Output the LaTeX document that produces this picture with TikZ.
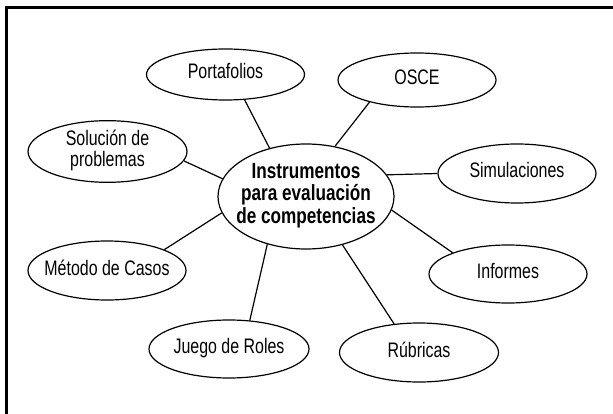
\documentclass[tikz,border=0pt]{standalone}
\usepackage{fontspec}
\setmainfont{Liberation Sans}[FakeStretch=0.76,BoldFeatures={FakeStretch=0.78}]
\usetikzlibrary{shapes.geometric}
\newcommand\ct[1]{\makebox[0pt]{\begin{tabular}{@{}c@{}}#1\end{tabular}}}
\begin{document}
\begin{tikzpicture}[x=1pt,y=-1pt,
  bub/.style={ellipse,draw,line width=1.2pt,inner sep=0pt,minimum width=158pt,minimum height=58pt,
    font=\fontsize{21}{21.5}\selectfont},
  link/.style={line width=1.2pt}]
\useasboundingbox (0,0) rectangle (613,414);
\fill[white] (0,0) rectangle (613,414);
\draw[line width=2.5pt] (6.5,414) -- (6.5,7.5) -- (613,7.5);
\node[bub,minimum width=176pt,minimum height=105pt,font=\fontsize{22}{21.7}\selectfont\bfseries] (c) at (306,196.5) {\ct{Instrumentos\\para evaluación\\de competencias}};
\node[bub,minimum height=51pt] (port) at (225.5,74.5) {\ct{Portafolios}};
\node[bub,minimum height=54pt] (osce) at (417,80) {\ct{OSCE}};
\node[bub,minimum width=159pt,minimum height=57pt] (sol) at (107.5,151.5) {\ct{Solución de\\problemas}};
\node[bub,minimum height=59pt] (sim) at (517,173.5) {\ct{Simulaciones}};
\node[bub,minimum height=59pt] (met) at (107,270.5) {\ct{Método de Casos}};
\node[bub,minimum height=58pt] (inf) at (508,274) {\ct{Informes}};
\node[bub,minimum width=160pt,minimum height=58pt] (jue) at (229,349) {\ct{Juego de Roles}};
\node[bub,minimum width=159pt,minimum height=59pt] (rub) at (419,352.5) {\ct{Rúbricas}};
\draw[link] (c.127.5) -- (port.-53.5);
\draw[link] (c.60.7) -- (osce.205.5);
\draw[link] (c.168.2) -- (sol.-7.2);
\draw[link] (c.15) -- (sim.180);
\draw[link] (c.191.1) -- (met.20);
\draw[link] (c.-9.5) -- (inf.159.9);
\draw[link] (c.231.9) -- (jue.54);
\draw[link] (c.-53.4) -- (rub.131.4);
\end{tikzpicture}
\end{document}
